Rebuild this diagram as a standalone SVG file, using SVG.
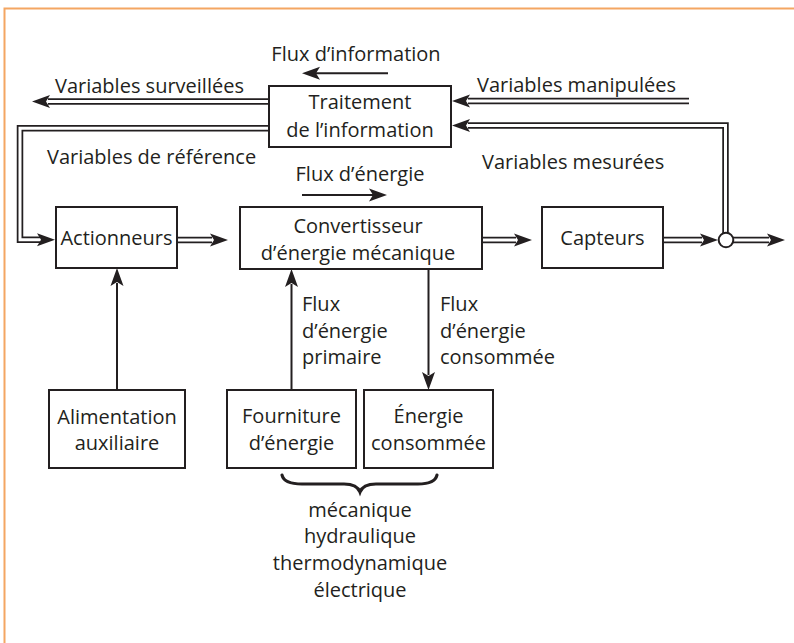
<svg xmlns="http://www.w3.org/2000/svg" xmlns:xlink="http://www.w3.org/1999/xlink" width="794" height="643" viewBox="0 0 794 643">
<style>
  .frame { stroke: #F4A662; stroke-width: 2; fill: none; }
  .box { fill: #ffffff; stroke: #231f20; stroke-width: 2; }
  .t { font-family: "Open Sans", "Noto Sans", sans-serif; font-size: 20px; fill: #231f20; }
  .m { text-anchor: middle; }
  .dblo { fill: none; stroke: #231f20; stroke-width: 6.5; stroke-linejoin: miter; }
  .dbli { fill: none; stroke: #ffffff; stroke-width: 3; stroke-linejoin: miter; }
  .sgl { fill: none; stroke: #231f20; stroke-width: 2; }
  .ah { fill: #231f20; }
</style>
<defs>
  <path id="ah" class="ah" d="M0,0 L-18,-6.5 L-14,0 L-18,6.5 Z"/>
</defs>
<rect width="794" height="643" fill="#ffffff"/>
<path class="frame" d="M4.5,643 V8.5 H794"/>

<g id="connectors">
  <!-- double arrows -->
  <path class="dblo" d="M269,101.5 H48"/>
  <path class="dbli" d="M269,101.5 H48"/>
  <use xlink:href="#ah" transform="translate(32,101.5) rotate(180)"/>

  <path class="dblo" d="M269,128.2 H20 V239.7 H40"/>
  <path class="dbli" d="M269,128.2 H20 V239.7 H40"/>
  <use xlink:href="#ah" transform="translate(55,239.7)"/>

  <path class="dblo" d="M177,240 H212"/>
  <path class="dbli" d="M177,240 H212"/>
  <use xlink:href="#ah" transform="translate(228,240)"/>

  <path class="dblo" d="M482,240 H516"/>
  <path class="dbli" d="M482,240 H516"/>
  <use xlink:href="#ah" transform="translate(532,240)"/>

  <path class="dblo" d="M663,240 H702"/>
  <path class="dbli" d="M663,240 H702"/>
  <use xlink:href="#ah" transform="translate(718,240)"/>

  <path class="dblo" d="M733,240 H769"/>
  <path class="dbli" d="M733,240 H769"/>
  <use xlink:href="#ah" transform="translate(785,240)"/>

  <path class="dblo" d="M725.5,233 V125.5 H468"/>
  <path class="dbli" d="M725.5,233 V125.5 H468"/>
  <use xlink:href="#ah" transform="translate(452,125.5) rotate(180)"/>

  <path class="dblo" d="M689,101 H468"/>
  <path class="dbli" d="M689,101 H468"/>
  <use xlink:href="#ah" transform="translate(452,101) rotate(180)"/>

  <circle cx="726" cy="240" r="7.3" fill="#ffffff" stroke="#231f20" stroke-width="2"/>

  <!-- single arrows -->
  <path class="sgl" d="M117,390 V283"/>
  <use xlink:href="#ah" transform="translate(117,268) rotate(-90)"/>
  <path class="sgl" d="M291.5,390 V284"/>
  <use xlink:href="#ah" transform="translate(291.5,269) rotate(-90)"/>
  <path class="sgl" d="M428.5,269 V375"/>
  <use xlink:href="#ah" transform="translate(428.5,390) rotate(90)"/>
  <path class="sgl" d="M388,73.3 H316"/>
  <use xlink:href="#ah" transform="translate(302,73.3) rotate(180)"/>
  <path class="sgl" d="M302,195 H373"/>
  <use xlink:href="#ah" transform="translate(387,195)"/>

  <!-- brace -->
  <path fill="none" stroke="#231f20" stroke-width="3.2" stroke-linecap="round" d="M282,475 Q284,484 302,484 L344,484 Q357,484 360,492 Q363,484 376,484 L418,484 Q435,484 437,475"/>
</g>

<g id="traitement">
  <rect class="box" x="269" y="86" width="182" height="61"/>
  <text class="t m" x="360" y="109">Traitement</text>
  <text class="t m" x="360" y="137">de l’information</text>
</g>
<g id="actionneurs">
  <rect class="box" x="56" y="207" width="121" height="61"/>
  <text class="t m" x="116.5" y="245">Actionneurs</text>
</g>
<g id="convertisseur">
  <rect class="box" x="240" y="207" width="242" height="62"/>
  <text class="t m" x="358" y="233">Convertisseur</text>
  <text class="t m" x="358" y="260">d’énergie mécanique</text>
</g>
<g id="capteurs">
  <rect class="box" x="542" y="207" width="121" height="61"/>
  <text class="t m" x="602.5" y="245">Capteurs</text>
</g>
<g id="alimentation">
  <rect class="box" x="49" y="390" width="136" height="78"/>
  <text class="t m" x="117" y="424">Alimentation</text>
  <text class="t m" x="117" y="450">auxiliaire</text>
</g>
<g id="fourniture">
  <rect class="box" x="227" y="390" width="129" height="78"/>
  <text class="t m" x="291.5" y="423">Fourniture</text>
  <text class="t m" x="291.5" y="450">d’énergie</text>
</g>
<g id="energie">
  <rect class="box" x="364" y="390" width="129" height="78"/>
  <text class="t m" x="428.5" y="423">Énergie</text>
  <text class="t m" x="428.5" y="450">consommée</text>
</g>

<g id="labels">
  <text class="t m" x="356" y="61">Flux d’information</text>
  <text class="t" x="55" y="93">Variables surveillées</text>
  <text class="t" x="477" y="92">Variables manipulées</text>
  <text class="t" x="47" y="164">Variables de référence</text>
  <text class="t" x="482" y="169">Variables mesurées</text>
  <text class="t m" x="360" y="181">Flux d’énergie</text>
  <text class="t" x="302" y="311">Flux</text>
  <text class="t" x="302" y="338">d’énergie</text>
  <text class="t" x="302" y="364">primaire</text>
  <text class="t" x="440" y="311">Flux</text>
  <text class="t" x="440" y="338">d’énergie</text>
  <text class="t" x="440" y="364">consommée</text>
  <text class="t m" x="360" y="517">mécanique</text>
  <text class="t m" x="360" y="543">hydraulique</text>
  <text class="t m" x="360" y="570">thermodynamique</text>
  <text class="t m" x="360" y="597">électrique</text>
</g>
</svg>
